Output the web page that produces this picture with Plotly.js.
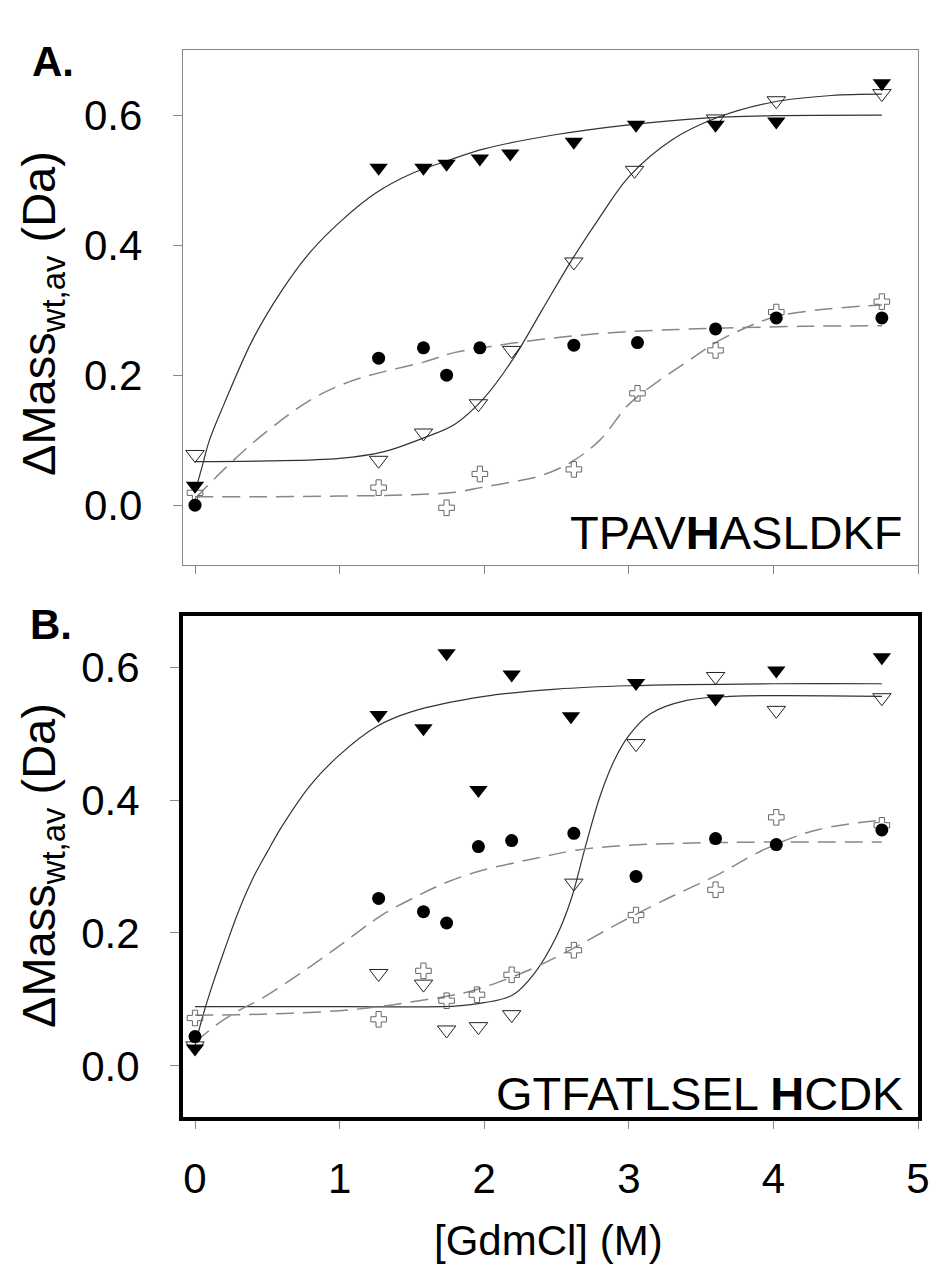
<!DOCTYPE html>
<html><head><meta charset="utf-8">
<script src="https://cdn.plot.ly/plotly-3.0.1.min.js"></script>
<style>body{margin:0;padding:0;background:#fff}#chart{width:931px;height:1275px}</style>
</head><body><div id="chart"></div>
<script>
// Panel A measured points (GdmCl M -> ΔMass Da)
const aFilledTriX = [0, 1.27, 1.58, 1.74, 1.97, 2.18, 2.62, 3.05, 3.6, 4.02, 4.75];
const aFilledTriY = [0.030, 0.519, 0.519, 0.525, 0.533, 0.541, 0.559, 0.585, 0.585, 0.590, 0.649];
const aOpenTriX = [0, 1.27, 1.58, 1.96, 2.19, 2.62, 3.04, 3.6, 4.02, 4.75];
const aOpenTriY = [0.078, 0.069, 0.111, 0.156, 0.238, 0.374, 0.515, 0.594, 0.622, 0.633];
const aCircleX = [0, 1.27, 1.58, 1.74, 1.97, 2.62, 3.06, 3.6, 4.02, 4.75];
const aCircleY = [0.0, 0.226, 0.242, 0.200, 0.242, 0.246, 0.250, 0.271, 0.288, 0.288];
const aCrossX = [0, 1.27, 1.74, 1.97, 2.62, 3.06, 3.6, 4.02, 4.75];
const aCrossY = [0.019, 0.027, -0.004, 0.048, 0.055, 0.172, 0.238, 0.297, 0.313];
// Panel A fitted curves
const aFit1X = [0, 0.05, 0.1, 0.2, 0.4, 0.6, 0.8, 1.0, 1.25, 1.5, 1.75, 2.0, 2.5, 3.0, 3.5, 4.0, 4.75];
const aFit1Y = [0.02, 0.06, 0.10, 0.155, 0.255, 0.33, 0.39, 0.435, 0.48, 0.51, 0.53, 0.548, 0.57, 0.585, 0.595, 0.599, 0.60];
const aFit2X = [0, 0.5, 1.0, 1.3, 1.6, 1.8, 2.0, 2.2, 2.4, 2.6, 2.8, 3.0, 3.3, 3.6, 4.0, 4.4, 4.75];
const aFit2Y = [0.067, 0.068, 0.072, 0.082, 0.105, 0.125, 0.165, 0.225, 0.30, 0.375, 0.443, 0.505, 0.562, 0.595, 0.62, 0.63, 0.632];
const aFit3X = [0, 0.2, 0.45, 0.8, 1.07, 1.3, 1.58, 1.8, 2.1, 2.4, 2.8, 3.2, 3.6, 4.2, 4.75];
const aFit3Y = [0.01, 0.055, 0.105, 0.162, 0.19, 0.205, 0.22, 0.235, 0.246, 0.255, 0.264, 0.269, 0.272, 0.275, 0.276];
const aFit4X = [0, 0.5, 1.0, 1.5, 1.8, 2.0, 2.2, 2.4, 2.6, 2.8, 3.0, 3.2, 3.4, 3.6, 3.8, 4.0, 4.3, 4.75];
const aFit4Y = [0.013, 0.013, 0.014, 0.016, 0.02, 0.028, 0.036, 0.046, 0.066, 0.10, 0.155, 0.19, 0.22, 0.25, 0.272, 0.289, 0.30, 0.308];

// Panel B measured points
const bFilledTriX = [0, 1.27, 1.58, 1.74, 1.96, 2.19, 2.6, 3.05, 3.6, 4.02, 4.75];
const bFilledTriY = [0.026, 0.528, 0.508, 0.621, 0.415, 0.589, 0.526, 0.576, 0.553, 0.595, 0.615];
const bOpenTriX = [0, 1.27, 1.58, 1.74, 1.96, 2.19, 2.62, 3.05, 3.6, 4.02, 4.75];
const bOpenTriY = [0.03, 0.139, 0.123, 0.054, 0.059, 0.077, 0.275, 0.485, 0.586, 0.535, 0.554];
const bCircleX = [0, 1.27, 1.58, 1.74, 1.96, 2.19, 2.62, 3.05, 3.6, 4.02, 4.75];
const bCircleY = [0.044, 0.252, 0.232, 0.215, 0.330, 0.339, 0.350, 0.285, 0.342, 0.333, 0.355];
const bCrossX = [0, 1.27, 1.58, 1.74, 1.95, 2.19, 2.62, 3.05, 3.6, 4.02, 4.75];
const bCrossY = [0.072, 0.070, 0.143, 0.098, 0.107, 0.137, 0.174, 0.227, 0.265, 0.374, 0.362];
// Panel B fitted curves
const bFit1X = [0, 0.05, 0.1, 0.2, 0.3, 0.4, 0.5, 0.6, 0.8, 1.0, 1.25, 1.5, 2.0, 2.5, 3.0, 4.0, 4.75];
const bFit1Y = [0.03, 0.072, 0.108, 0.172, 0.232, 0.282, 0.322, 0.36, 0.423, 0.468, 0.51, 0.533, 0.556, 0.567, 0.572, 0.575, 0.575];
const bFit2X = [0, 1.0, 1.8, 2.0, 2.2, 2.35, 2.5, 2.6, 2.7, 2.8, 2.9, 3.0, 3.15, 3.4, 3.7, 4.75];
const bFit2Y = [0.089, 0.089, 0.09, 0.095, 0.107, 0.14, 0.195, 0.25, 0.33, 0.405, 0.46, 0.497, 0.53, 0.55, 0.556, 0.556];
const bFit3X = [0, 0.15, 0.3, 0.45, 0.7, 0.95, 1.15, 1.3, 1.55, 1.75, 2.0, 2.35, 2.65, 3.0, 3.6, 4.75];
const bFit3Y = [0.035, 0.062, 0.083, 0.10, 0.135, 0.173, 0.205, 0.228, 0.257, 0.277, 0.295, 0.312, 0.325, 0.332, 0.336, 0.337];
const bFit4X = [0, 0.5, 1.0, 1.3, 1.55, 1.75, 1.9, 2.1, 2.35, 2.6, 2.9, 3.25, 3.6, 3.95, 4.3, 4.75];
const bFit4Y = [0.076, 0.078, 0.083, 0.09, 0.098, 0.105, 0.112, 0.126, 0.148, 0.175, 0.211, 0.25, 0.286, 0.327, 0.355, 0.37];

const xTicks = [0, 1, 2, 3, 4, 5];
const yTicks = [0.0, 0.2, 0.4, 0.6];
const yTickText = ['0.0', '0.2', '0.4', '0.6'];
const seqA = 'TPAV<b>H</b>ASLDKF';
const seqB = 'GTFATLSEL <b>H</b>CDK';
const yTitle = 'ΔMass<sub>wt,av</sub> (Da)';
const xTitle = '[GdmCl] (M)';

const W = 931, H = 1275;
const FONT = 'Liberation Sans, Arial, sans-serif';
const solid = {color: '#333', width: 1.2, shape: 'spline'};
const dashed = {color: '#888', width: 1.5, dash: '18px,9px', shape: 'spline'};

function fit(x, y, line, xa, ya) {
  return {x, y, mode: 'lines', line, xaxis: xa, yaxis: ya, hoverinfo: 'skip'};
}
function pts(x, y, marker, xa, ya) {
  return {x, y, mode: 'markers', marker, xaxis: xa, yaxis: ya};
}
const mFT = {symbol: 'triangle-down', color: '#000', size: 16, line: {width: 0}};
const mOT = {symbol: 'triangle-down-open', color: '#222', size: 16, line: {width: 1}};
const mC = {symbol: 'circle', color: '#000', size: 13, line: {width: 0}};
const mX = {symbol: 'cross-open', color: '#666', size: 13, line: {width: 1}};

const data = [
  fit(aFit1X, aFit1Y, solid, 'x', 'y'),
  fit(aFit2X, aFit2Y, solid, 'x', 'y'),
  fit(aFit3X, aFit3Y, dashed, 'x', 'y'),
  fit(aFit4X, aFit4Y, dashed, 'x', 'y'),
  pts(aCrossX, aCrossY, mX, 'x', 'y'),
  pts(aOpenTriX, aOpenTriY, mOT, 'x', 'y'),
  pts(aCircleX, aCircleY, mC, 'x', 'y'),
  pts(aFilledTriX, aFilledTriY, mFT, 'x', 'y'),
  fit(bFit1X, bFit1Y, solid, 'x2', 'y2'),
  fit(bFit2X, bFit2Y, solid, 'x2', 'y2'),
  fit(bFit3X, bFit3Y, dashed, 'x2', 'y2'),
  fit(bFit4X, bFit4Y, dashed, 'x2', 'y2'),
  pts(bCrossX, bCrossY, mX, 'x2', 'y2'),
  pts(bOpenTriX, bOpenTriY, mOT, 'x2', 'y2'),
  pts(bCircleX, bCircleY, mC, 'x2', 'y2'),
  pts(bFilledTriX, bFilledTriY, mFT, 'x2', 'y2')
];

const px = v => v / W, py = v => 1 - v / H;
const tickFont = {family: FONT, size: 42, color: '#000'};
const baseX = {range: [-0.083, 5.0], tickvals: xTicks, ticks: 'outside', ticklen: 8, tickcolor: '#888',
  showgrid: false, zeroline: false, showline: true, mirror: true, tickfont: tickFont};
const baseY = {tickvals: yTicks, ticktext: yTickText, ticks: 'outside', ticklen: 9, tickcolor: '#888',
  showgrid: false, zeroline: false, showline: true, mirror: true, tickfont: tickFont, ticklabelstandoff: 22};

const layout = {
  width: W, height: H, margin: {l: 0, r: 0, t: 0, b: 0}, showlegend: false,
  paper_bgcolor: '#fff', plot_bgcolor: '#fff', font: {family: FONT, color: '#000'},
  xaxis: Object.assign({}, baseX, {domain: [px(183), px(918)], anchor: 'y', showticklabels: false, linecolor: '#888', linewidth: 1.2}),
  yaxis: Object.assign({}, baseY, {domain: [py(565), py(50)], anchor: 'x', range: [-0.092, 0.70], linecolor: '#888', linewidth: 1.2}),
  xaxis2: Object.assign({}, baseX, {domain: [px(183), px(918)], anchor: 'y2', linecolor: '#000', linewidth: 4, ticklabelstandoff: 14}),
  yaxis2: Object.assign({}, baseY, {domain: [py(1117), py(616)], anchor: 'x2', range: [-0.077, 0.677], linecolor: '#000', linewidth: 4}),
  annotations: [
    {text: '<b>A.</b>', x: px(30), y: py(62), xref: 'paper', yref: 'paper', xanchor: 'left', yanchor: 'middle', showarrow: false, font: {family: FONT, size: 42}},
    {text: '<b>B.</b>', x: px(28), y: py(624), xref: 'paper', yref: 'paper', xanchor: 'left', yanchor: 'middle', showarrow: false, font: {family: FONT, size: 42}},
    {text: yTitle, x: px(42), y: py(314), xref: 'paper', yref: 'paper', textangle: -90, xanchor: 'center', yanchor: 'middle', showarrow: false, font: {family: FONT, size: 47}},
    {text: yTitle, x: px(42), y: py(866), xref: 'paper', yref: 'paper', textangle: -90, xanchor: 'center', yanchor: 'middle', showarrow: false, font: {family: FONT, size: 47}},
    {text: seqA, x: px(905), y: py(533), xref: 'paper', yref: 'paper', xanchor: 'right', yanchor: 'middle', showarrow: false, font: {family: FONT, size: 47}},
    {text: seqB, x: px(905), y: py(1093), xref: 'paper', yref: 'paper', xanchor: 'right', yanchor: 'middle', showarrow: false, font: {family: FONT, size: 47}},
    {text: xTitle, x: px(548), y: py(1240), xref: 'paper', yref: 'paper', xanchor: 'center', yanchor: 'middle', showarrow: false, font: {family: FONT, size: 42}}
  ]
};
Plotly.newPlot('chart', data, layout, {displayModeBar: false, staticPlot: true});
</script></body></html>
